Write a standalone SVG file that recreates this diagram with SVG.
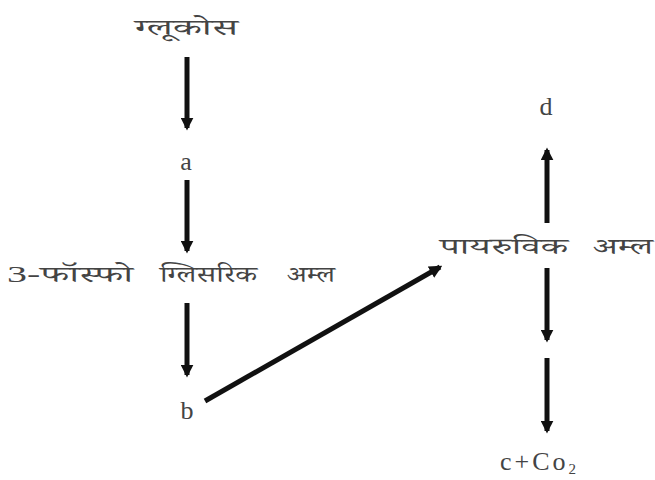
<svg xmlns="http://www.w3.org/2000/svg" width="655" height="480" viewBox="0 0 655 480">
<style>
text{font-family:"Liberation Serif","Noto Serif Devanagari","Noto Sans Devanagari","Noto Sans",serif;fill:#444;font-size:26px}
.dv{font-size:23px;font-weight:normal}
.conn line{stroke:#111;stroke-width:5}
</style>
<defs>
<marker id="ah" viewBox="0 0 10 10" refX="8" refY="5" markerWidth="2.6" markerHeight="2.6" orient="auto" markerUnits="strokeWidth">
<path d="M0,0 L10,5 L0,10 z" fill="#111"/>
</marker>
</defs>
<rect width="655" height="480" fill="#fff"/>
<g class="conn">
<line x1="187" y1="57" x2="187" y2="128" marker-end="url(#ah)"/>
<line x1="187" y1="180" x2="187" y2="251" marker-end="url(#ah)"/>
<line x1="187" y1="303" x2="187" y2="375" marker-end="url(#ah)"/>
<line x1="205" y1="401" x2="440" y2="267" marker-end="url(#ah)"/>
<line x1="547" y1="223" x2="547" y2="150" marker-end="url(#ah)"/>
<line x1="547" y1="268" x2="547" y2="340" marker-end="url(#ah)"/>
<line x1="547" y1="358" x2="547" y2="431" marker-end="url(#ah)"/>
</g>
<g id="glucose"><text class="dv" x="135" y="35" textLength="103" lengthAdjust="spacingAndGlyphs">ग्लूकोस</text></g>
<g id="a"><text x="186" y="170" text-anchor="middle">a</text></g>
<g id="pga">
<text class="dv" x="7" y="282" textLength="126" lengthAdjust="spacingAndGlyphs">3-फॉस्फो</text>
<text class="dv" x="160" y="282" textLength="97" lengthAdjust="spacingAndGlyphs">ग्लिसरिक</text>
<text class="dv" x="287" y="282" textLength="48" lengthAdjust="spacingAndGlyphs">अम्ल</text>
</g>
<g id="b"><text x="187" y="419" text-anchor="middle">b</text></g>
<g id="pyruvic">
<text class="dv" x="440" y="254" textLength="128" lengthAdjust="spacingAndGlyphs">पायरुविक</text>
<text class="dv" x="593" y="254" textLength="60" lengthAdjust="spacingAndGlyphs">अम्ल</text>
</g>
<g id="d"><text x="546" y="115" text-anchor="middle">d</text></g>
<g id="cco2"><text x="500" y="470" letter-spacing="3">c+Co<tspan font-size="15" dy="4">2</tspan></text></g>
</svg>
